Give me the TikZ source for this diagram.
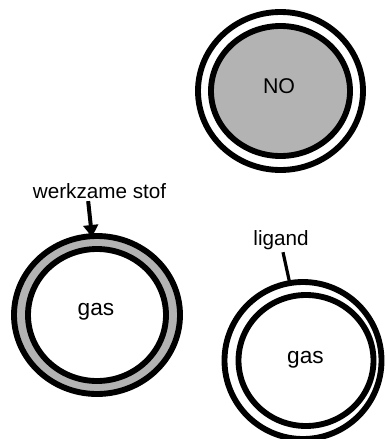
\documentclass[tikz,border=0pt]{standalone}
\usepackage{fontspec}
\setmainfont{Liberation Sans}
\usetikzlibrary{arrows.meta}
\definecolor{ringgray}{RGB}{179,179,179}
\begin{document}
\begin{tikzpicture}[x=0.75pt,y=-0.75pt,
  ring/.style={draw=black,line width=4.4pt},
  lbl/.style={inner sep=0pt,anchor=base,font=\fontsize{15.5}{18}\selectfont},
  biglbl/.style={inner sep=0pt,anchor=base,font=\fontsize{17}{20}\selectfont},
  pointer/.style={line width=3pt,-{Triangle[length=9pt,width=11pt]}},
  tick/.style={line width=2.4pt}]
\useasboundingbox (0,0) rectangle (386,439);
% top NO circle
\draw[ring,fill=white] (280.5,91) ellipse [x radius=82.5,y radius=79];
\draw[ring,fill=ringgray] (280.5,91) ellipse [x radius=69.5,y radius=65];
\node[biglbl,font=\fontsize{16}{19}\selectfont] (no) at (279,93) {NO};
% bottom-left circle
\draw[ring,fill=ringgray] (97,315) ellipse [x radius=83,y radius=79];
\draw[ring,fill=white] (97,315) ellipse [x radius=69,y radius=66];
\node[biglbl] (gasL) at (96,315) {gas};
\node[lbl] (ws) at (99.5,198) {werkzame stof};
\coordinate (wsend) at (92,237);
\draw[pointer] ([xshift=-8.5pt,yshift=-2pt]ws.south) -- (wsend);
% bottom-right circle
\draw[ring,fill=white] (303,360.5) ellipse [x radius=78.5,y radius=78.5];
\draw[ring,fill=white] (306,360.5) ellipse [x radius=67.5,y radius=65.5];
\node[biglbl] (gasR) at (305.5,363) {gas};
\node[lbl] (lig) at (281,245) {ligand};
\coordinate (ligend) at (289.5,282);
\draw[tick] ([xshift=1.5pt,yshift=-2pt]lig.south) -- (ligend);
\end{tikzpicture}
\end{document}
